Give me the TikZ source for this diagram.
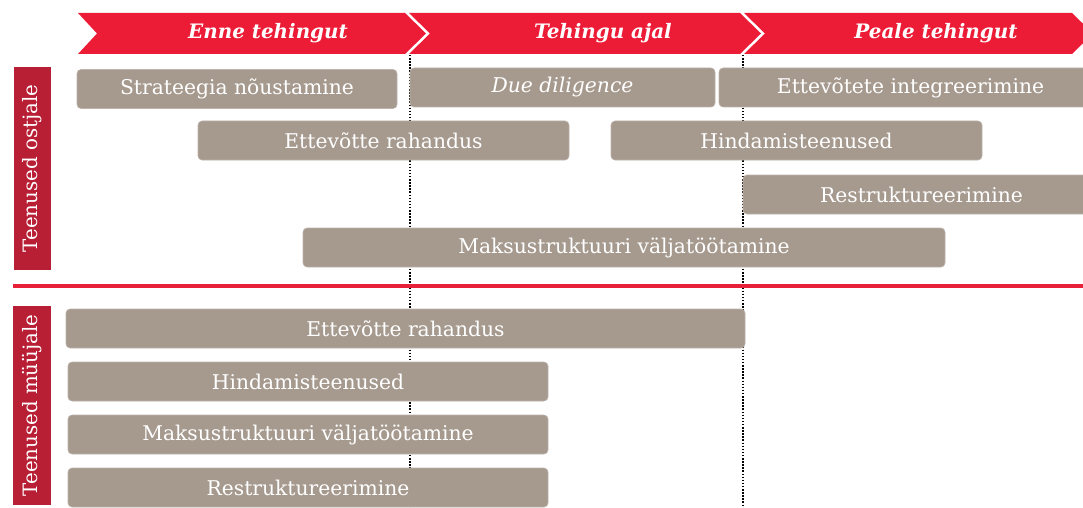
\documentclass[tikz,border=0pt]{standalone}
\usepackage{fontspec}
\setmainfont{DejaVu Serif}
\definecolor{hdrred}{HTML}{EC1C37}
\definecolor{barred}{HTML}{B81E34}
\definecolor{linered}{HTML}{E8203A}
\definecolor{boxgray}{HTML}{A69A8F}
\definecolor{boxedge}{HTML}{BDB3AA}
\tikzset{
  svc/.style={fill=boxgray, draw=boxedge, line width=0.6pt, rounded corners=4pt,
    text=white, font=\fontsize{20.3}{20.3}\selectfont, inner sep=0pt, minimum height=39pt},
  hdr/.style={fill=hdrred, draw=none},
  hdrtext/.style={text=white, font=\fontsize{19.9}{19.9}\selectfont\bfseries\itshape, inner sep=0pt},
  sidebar/.style={fill=barred, draw=none, inner sep=0pt},
  sidetext/.style={text=white, font=\fontsize{19.8}{19.8}\selectfont, rotate=90, inner sep=0pt},
  phase/.style={line width=1.5pt, dash pattern=on 1.5pt off 1.6pt, black},
}
\begin{document}
\begin{tikzpicture}[x=1pt,y=-1pt]
\useasboundingbox (0,0) rectangle (1083,508);
\begin{scope}
\clip (0,0) rectangle (1083,508);
% header chevrons
\fill[hdr] (78,13) -- (405,13) -- (426,33.5) -- (405,54) -- (78,54) -- (97,33.5) -- cycle;
\fill[hdr] (409,13) -- (740,13) -- (761,33.5) -- (740,54) -- (409,54) -- (430,33.5) -- cycle;
\fill[hdr] (744,13) -- (1072,13) -- (1093,33.5) -- (1072,54) -- (744,54) -- (765,33.5) -- cycle;
\node[hdrtext] (h1) at (268,33.5) {Enne tehingut};
\node[hdrtext] (h2) at (603,33.5) {Tehingu ajal};
\node[hdrtext] (h3) at (936,33.5) {Peale tehingut};
% phase separators
\coordinate (p1t) at (410,55);
\coordinate (p1b) at (410,508);
\coordinate (p2t) at (743,55);
\coordinate (p2b) at (743,508);
\draw[phase] (p1t) -- (p1b);
\draw[phase] (p2t) -- (p2b);
% section divider
\coordinate (dl) at (13,286);
\coordinate (dr) at (1083,286);
\draw[linered, line width=4pt] (dl) -- (dr);
% side labels
\node[sidebar, minimum width=37pt, minimum height=203pt] (s1) at (32.5,168.5) {};
\node[sidetext] (s1t) at (s1.center) {Teenused ostjale};
\node[sidebar, minimum width=38pt, minimum height=199pt] (s2) at (32,405.5) {};
\node[sidetext] (s2t) at (s2.center) {Teenused müüjale};
% buyer services
\node[svc, minimum width=320pt] (b1) at (237,89) {Strateegia nõustamine};
\node[svc, minimum width=305pt] (b2) at (562.5,87.5) {\itshape Due diligence};
\node[svc, minimum width=383pt] (b3) at (910.5,87.5) {Ettevõtete integreerimine};
\node[svc, minimum width=371pt] (b4) at (383.5,140.5) {Ettevõtte rahandus};
\node[svc, minimum width=371pt] (b5) at (796.5,140.5) {Hindamisteenused};
\node[svc, minimum width=357pt] (b6) at (921.5,194.5) {Restruktureerimine};
\node[svc, minimum width=642pt] (b7) at (624,247.5) {Maksustruktuuri väljatöötamine};
% seller services
\node[svc, minimum width=679pt] (b8) at (405.5,328.5) {Ettevõtte rahandus};
\node[svc, minimum width=480pt] (b9) at (308,381.5) {Hindamisteenused};
\node[svc, minimum width=480pt] (b10) at (308,434.5) {Maksustruktuuri väljatöötamine};
\node[svc, minimum width=480pt] (b11) at (308,487.5) {Restruktureerimine};
\end{scope}
\end{tikzpicture}
\end{document}
